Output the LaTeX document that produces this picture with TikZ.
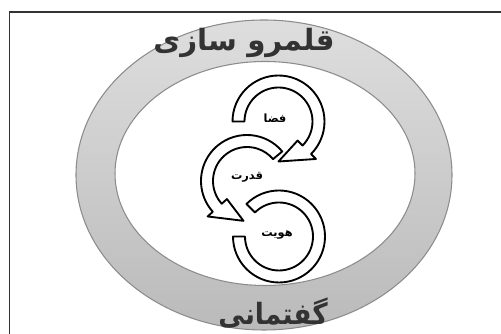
\documentclass[tikz,border=0pt]{standalone}
\usepackage{fontspec}
\newfontfamily\arabicfont[Script=Arabic]{DejaVu Sans}
\TeXXeTstate=1

\tikzset{
  band/.style={fill=white, draw=black, line width=1.4pt, line join=round},
  ringtext/.style={font=\arabicfont\bfseries\fontsize{22}{22}\selectfont, text=black!80},
  looptext/.style={font=\arabicfont\bfseries\fontsize{8.5}{8.5}\selectfont},
}
% curved block arrow: centre, start angle, body end angle, tip angle
\newcommand{\looparrow}[4]{%
  \begin{scope}[shift={#1}]
    \draw[band] (#2:46) arc[start angle=#2, end angle=#3, radius=46]
      -- (#3:53) -- (#4:40) -- (#3:27) -- (#3:34)
      arc[start angle=#3, end angle=#2, radius=34] -- cycle;
  \end{scope}}

\begin{document}
\begin{tikzpicture}[x=0.75pt, y=0.75pt]
  \useasboundingbox (0,0) rectangle (501,334);

  % Frame
  \draw[line width=1.2pt, black!80] (9.5,-5) -- (9.5,322) -- (510,322);

  % Ring
  \shadedraw[top color=black!13, bottom color=black!27, draw=black!45, line width=0.8pt]
    (264,159) ellipse [x radius=188, y radius=155];
  \filldraw[fill=white, draw=black!45, line width=0.8pt]
    (265,160.5) ellipse [x radius=150, y radius=112];

  % Ring labels
  \node[ringtext] (ringtop) at (244,291) {\beginR قلمرو سازی\endR};
  \node[ringtext, xscale=0.9] (ringbottom) at (273,21) {\beginR گفتمانی\endR};

  % Loops
  \begin{scope}[shift={(279,97.5)}]
    \draw[band] (135:46) arc[start angle=135, end angle=-180, radius=46]
      -- (-180:34) arc[start angle=-180, end angle=135, radius=34] -- cycle;
  \end{scope}
  \looparrow{(247,153)}{40}{222}{265}
  \looparrow{(278.5,212.5)}{180}{-45}{-90}

  % Loop labels
  \node[looptext] (faza) at (275,216) {\beginR فضا\endR};
  \node[looptext] (qodrat) at (247,157) {\beginR قدرت\endR};
  \node[looptext] (hoviyat) at (277,99) {\beginR هویت\endR};
\end{tikzpicture}
\end{document}
